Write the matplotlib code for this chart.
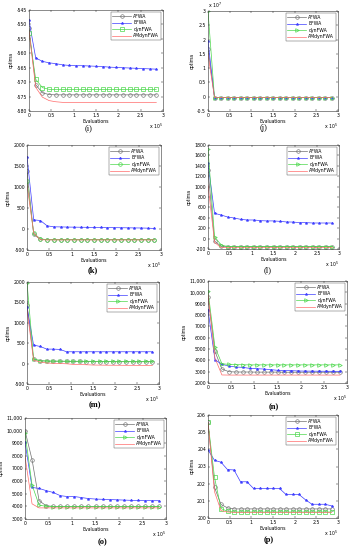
import matplotlib
matplotlib.use("Agg")
import matplotlib.pyplot as plt
from matplotlib.ticker import FuncFormatter, FixedLocator

plt.rcParams['axes.unicode_minus'] = False
plt.rcParams['font.family'] = ['DejaVu Sans']

# ---------------- data ----------------
evals = [0, 15000, 30000, 45000, 60000, 75000, 90000, 105000, 120000, 135000,
         150000, 165000, 180000, 195000, 210000, 225000, 240000, 255000, 270000, 285000]
algos = ["AFWA", "EFWA", "dynFWA", "AMdynFWA"]
panel_labels = ["(i)", "(j)", "(k)", "(l)", "(m)", "(n)", "(o)", "(p)"]

# (i)
i_afwa = [-551.3, -570.9, -573.7, -574.3, -574.4, -574.4, -574.4, -574.4, -574.4, -574.4,
          -574.4, -574.4, -574.4, -574.4, -574.4, -574.4, -574.4, -574.4, -574.4, -574.4]
i_efwa = [-548.6, -561.6, -562.8, -563.3, -563.6, -564.0, -564.2, -564.3, -564.3, -564.4,
          -564.5, -564.6, -564.8, -564.9, -565.0, -565.1, -565.2, -565.3, -565.4, -565.5]
i_dyn = [-553.0, -569.0, -571.9, -572.5, -572.5, -572.5, -572.5, -572.5, -572.5, -572.5,
         -572.5, -572.5, -572.5, -572.5, -572.5, -572.5, -572.5, -572.5, -572.5, -572.5]
i_am = [-552.4, -571.8, -575.2, -576.4, -576.8, -577.0, -577.0, -577.0, -577.0, -577.0,
        -577.0, -577.0, -577.0, -577.0, -577.0, -577.0, -577.0, -577.0, -577.0, -577.0]

# (j)  (x 10^7)
j_afwa = [1.68e7] + [-0.03e7] * 19
j_efwa = [1.94e7] + [-0.03e7] * 19
j_dyn = [3.0e7] + [-0.03e7] * 19
j_am = [1.48e7] + [-0.03e7] * 19

# (k)
k_afwa = [1385, -130, -248, -256, -256, -256, -256, -256, -256, -256,
          -256, -256, -256, -256, -256, -256, -256, -256, -256, -256]
k_efwa = [1724, 218, 202, 76, 52, 50, 46, 44, 42, 40,
          38, 36, 34, 32, 30, 28, 26, 24, 20, 13]
k_dyn = [1148, -106, -232, -256, -256, -256, -256, -256, -256, -256,
         -256, -256, -256, -256, -256, -256, -256, -256, -256, -256]
k_am = [1054, -98, -256, -260, -260, -260, -260, -260, -260, -260,
        -260, -260, -260, -260, -260, -260, -260, -260, -260, -260]

# (l)
l_afwa = [1319, -46, -148, -154, -154, -154, -154, -154, -154, -154,
          -154, -154, -154, -154, -154, -154, -154, -154, -154, -154]
l_efwa = [1447, 486, 454, 415, 396, 370, 358, 358, 345, 340,
          340, 332, 320, 318, 307, 307, 300, 300, 300, 300]
l_dyn = [1723, 37, -122, -154, -154, -154, -154, -154, -154, -154,
         -154, -154, -154, -154, -154, -154, -154, -154, -154, -154]
l_am = [1031, -72, -174, -174, -174, -174, -174, -174, -174, -174,
        -174, -174, -174, -174, -174, -174, -174, -174, -174, -174]

# (m)
m_afwa = [1446, 111, 70, 62, 60, 58, 56, 54, 52, 50,
          50, 48, 48, 47, 47, 46, 46, 46, 46, 46]
m_efwa = [1381, 453, 420, 355, 355, 347, 290, 290, 290, 290,
          290, 290, 290, 290, 290, 290, 290, 290, 290, 290]
m_dyn = [1984, 111, 70, 62, 60, 60, 58, 58, 57, 57,
         56, 56, 55, 55, 55, 54, 54, 54, 54, 54]
m_am = [1316, 80, 39, 14, 8, 2, -5, -19, -24, -28,
        -35, -37, -39, -40, -41, -42, -42, -43, -43, -43]

# (n)
n_afwa = [9623, 4790, 3235, 3000, 2970, 2970, 2970, 2960, 2960, 2960,
          2960, 2950, 2950, 2950, 2950, 2950, 2950, 2950, 2950, 2950]
n_efwa = [8450, 4055, 3645, 3500, 3410, 3380, 3290, 3260, 3235, 3180,
          3120, 3100, 3090, 3060, 3050, 3045, 3040, 3035, 3030, 3030]
n_dyn = [10150, 5170, 3700, 3645, 3620, 3610, 3600, 3600, 3600, 3600,
         3600, 3600, 3600, 3600, 3600, 3600, 3600, 3600, 3600, 3600]
n_am = [9800, 4200, 2710, 2700, 2700, 2700, 2700, 2700, 2700, 2700,
        2700, 2700, 2700, 2700, 2700, 2700, 2700, 2700, 2700, 2700]

# (o)
o_afwa = [10000, 7700, 4450, 4050, 4000, 4000, 4000, 4000, 4000, 4000,
          4000, 4000, 4000, 4000, 4000, 4000, 4000, 4000, 4000, 4000]
o_efwa = [9100, 5500, 5420, 5250, 5100, 4850, 4780, 4780, 4700, 4620,
          4580, 4560, 4540, 4520, 4500, 4480, 4470, 4460, 4450, 4450]
o_dyn = [9800, 5700, 4100, 4000, 3980, 3980, 3980, 3980, 3980, 3980,
         3980, 3980, 3980, 3980, 3980, 3980, 3980, 3980, 3980, 3980]
o_am = [7960, 4200, 3880, 3880, 3880, 3880, 3880, 3880, 3880, 3880,
        3880, 3880, 3880, 3880, 3880, 3880, 3880, 3880, 3880, 3880]

# (p)
p_afwa = [205.57, 201.78, 200.79, 200.59, 200.53, 200.53, 200.53, 200.53, 200.53, 200.53,
          200.53, 200.53, 200.53, 200.53, 200.53, 200.53, 200.53, 200.53, 200.53, 200.53]
p_efwa = [203.97, 203.36, 203.25, 202.82, 202.80, 202.11, 202.11, 201.72, 201.72, 201.72,
          201.72, 201.72, 201.37, 201.37, 201.37, 201.06, 200.80, 200.80, 200.80, 200.71]
p_dyn = [205.57, 202.37, 200.55, 200.39, 200.35, 200.35, 200.35, 200.35, 200.35, 200.35,
         200.35, 200.35, 200.35, 200.35, 200.35, 200.35, 200.35, 200.35, 200.35, 200.35]
p_am = [205.57, 201.53, 200.43, 200.35, 200.33, 200.33, 200.33, 200.33, 200.33, 200.33,
        200.33, 200.33, 200.33, 200.33, 200.33, 200.33, 200.33, 200.33, 200.33, 200.33]

series = [
    (i_afwa, i_efwa, i_dyn, i_am),
    (j_afwa, j_efwa, j_dyn, j_am),
    (k_afwa, k_efwa, k_dyn, k_am),
    (l_afwa, l_efwa, l_dyn, l_am),
    (m_afwa, m_efwa, m_dyn, m_am),
    (n_afwa, n_efwa, n_dyn, n_am),
    (o_afwa, o_efwa, o_dyn, o_am),
    (p_afwa, p_efwa, p_dyn, p_am),
]

yticks = [
    [-580, -575, -570, -565, -560, -555, -550, -545],
    [-0.5e7, 0, 0.5e7, 1e7, 1.5e7, 2e7, 2.5e7, 3e7],
    [-500, 0, 500, 1000, 1500, 2000],
    [-200, 0, 200, 400, 600, 800, 1000, 1200, 1400, 1600, 1800],
    [-500, 0, 500, 1000, 1500, 2000],
    [2000, 3000, 4000, 5000, 6000, 7000, 8000, 9000, 10000, 11000],
    [3000, 4000, 5000, 6000, 7000, 8000, 9000, 10000, 11000],
    [200, 201, 202, 203, 204, 205, 206],
]
xticks = [0, 50000, 100000, 150000, 200000, 250000, 300000]

# ---------------- layout (pixels) ----------------
W, H = 353, 550
boxes = [  # left, right, top, bottom
    (29, 163, 10, 111), (208, 338, 11, 111),
    (27, 161, 145, 250), (208, 339, 145, 249),
    (27, 159, 282, 384), (208, 347, 281, 383),
    (25, 166, 418, 519), (208, 338, 415, 518),
]
cap_pos = [(89, 128.5), (264, 128.5), (93, 270), (268, 270),
           (95, 405), (274, 407), (102, 542), (269, 540)]
cap_bold = [False, False, True, False, True, True, True, True]
dyn_markers = ['s', '>', 'o', '>', '>', '>', '>', 's']

colors = ['#707070', '#3c3cff', '#4cd84c', '#ff6a6a']

fig = plt.figure(figsize=(W / 100, H / 100), dpi=100)
fs = 3.3

for p in range(8):
    L, R, T, B = boxes[p]
    ax = fig.add_axes([L / W, 1 - B / H, (R - L) / W, (B - T) / H])
    a, e, d, m = series[p]
    ax.plot(evals, a, '-', color=colors[0], marker='o', ms=2.6, mfc='none',
            mec=colors[0], mew=0.45, lw=0.5, label=algos[0])
    ax.plot(evals, e, '-', color=colors[1], marker='*', ms=2.0, mec=colors[1],
            mew=0.4, lw=0.5, label=algos[1])
    ax.plot(evals, d, '-', color=colors[2], marker=dyn_markers[p], ms=2.6, mfc='none',
            mec=colors[2], mew=0.5, lw=0.5, label=algos[2])
    ax.plot(evals, m, '-', color=colors[3], lw=0.5, label=algos[3])

    yt = yticks[p]
    ax.set_xlim(0, 300000)
    ax.set_ylim(yt[0], yt[-1])
    ax.xaxis.set_major_locator(FixedLocator(xticks))
    ax.yaxis.set_major_locator(FixedLocator(yt))
    ax.xaxis.set_major_formatter(FuncFormatter(lambda v, pos: '%g' % (v / 1e5)))
    if p == 1:
        ax.yaxis.set_major_formatter(FuncFormatter(lambda v, pos: '%g' % (v / 1e7)))
        ax.text(0.0, 1.005, r'x 10$^7$', transform=ax.transAxes, fontsize=fs,
                ha='left', va='bottom')
    elif p in (5, 6):
        ax.yaxis.set_major_formatter(FuncFormatter(
            lambda v, pos: ('{:,}'.format(int(v)) if v >= 10000 else '%d' % v)))
    else:
        ax.yaxis.set_major_formatter(FuncFormatter(lambda v, pos: '%g' % v))

    ax.tick_params(direction='in', length=1.5, width=0.3, labelsize=fs, pad=1.5,
                   top=True, right=True)
    for s in ax.spines.values():
        s.set_linewidth(0.4)
        s.set_color('#333333')
    ax.set_xlabel('Evaluations', fontsize=fs, labelpad=0.5)
    ax.set_ylabel('optima', fontsize=fs, labelpad=2)
    ax.text(1.0, -0.105, r'x 10$^5$', transform=ax.transAxes, fontsize=fs,
            ha='right', va='top')

    leg = ax.legend(loc='upper right', fontsize=fs, frameon=True, fancybox=False,
                    borderpad=0.4, handlelength=4, handletextpad=0.6,
                    labelspacing=0.35, borderaxespad=0.4)
    leg.get_frame().set_edgecolor('#333333')
    leg.get_frame().set_linewidth(0.35)

    cx, cy = cap_pos[p]
    fig.text(cx / W, 1 - cy / H, panel_labels[p], fontsize=6,
             family=['Liberation Serif', 'DejaVu Serif'],
             weight='bold' if cap_bold[p] else 'normal', ha='center', va='center')

fig.savefig('out.png', dpi=100)
